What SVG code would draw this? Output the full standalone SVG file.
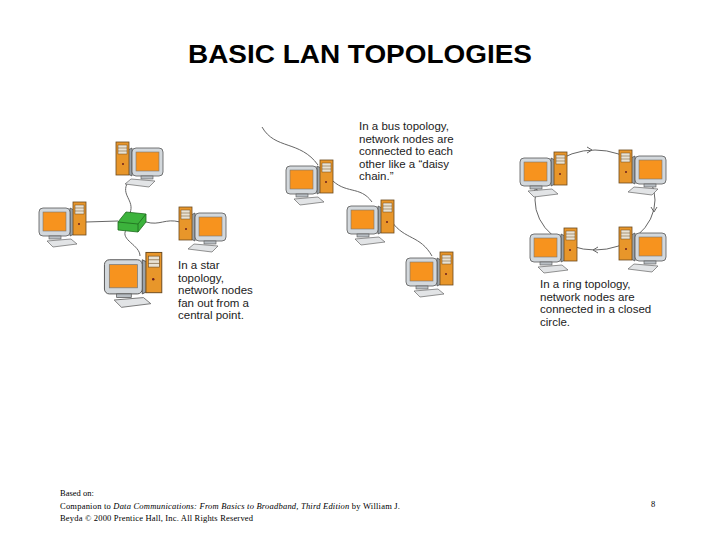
<svg xmlns="http://www.w3.org/2000/svg" width="720" height="540" viewBox="0 0 720 540">
<style>
.t{font-family:"Liberation Sans",Arial,sans-serif;font-size:11.5px;fill:#222}
.f{font-family:"Liberation Serif","Times New Roman",serif;font-size:8.5px;fill:#000}
.c{fill:none;stroke:#666;stroke-width:1}
</style>
<defs>
<g id="pc">
<path d="M33 8 L39 11 L39 33 L33 36 Z" fill="#9aa3ab" stroke="#555" stroke-width="0.8"/>
<rect x="2" y="8" width="31" height="28" rx="4" fill="#d3d8dc" stroke="#555" stroke-width="0.8"/>
<rect x="6" y="12" width="23" height="19" fill="#f7931e" stroke="#777" stroke-width="0.6"/>
<rect x="12" y="36" width="12" height="3" fill="#b8bec3" stroke="#555" stroke-width="0.6"/>
<rect x="36" y="2" width="13" height="33" fill="#e8962a" stroke="#6b4a1e" stroke-width="0.8"/>
<rect x="38" y="5" width="9" height="9" fill="#e9e2d4" stroke="#6b4a1e" stroke-width="0.5"/>
<line x1="38" y1="8" x2="47" y2="8" stroke="#6b4a1e" stroke-width="0.5"/>
<line x1="38" y1="11" x2="47" y2="11" stroke="#6b4a1e" stroke-width="0.5"/>
<circle cx="42" cy="24" r="1" fill="#6b1e1e"/>
<path d="M10 41 L34 39 L40 44 L16 47 Z" fill="#e2e4e6" stroke="#666" stroke-width="0.7"/>
</g>
<g id="pr"><use href="#pc" transform="translate(52,0) scale(-1,1)"/></g>
<path id="ar" d="M-3 -3 L2 0 L-3 3" fill="none" stroke="#666" stroke-width="1"/>
</defs>
<text x="188" y="63" textLength="344" lengthAdjust="spacingAndGlyphs" font-family="Liberation Sans,Arial,sans-serif" font-weight="bold" font-size="25" fill="#000">BASIC LAN TOPOLOGIES</text>
<g id="connectors">
<path class="c" d="M128 182 C120 195 135 200 130 213"/>
<path class="c" d="M86 222 L118 221"/>
<path class="c" d="M146 222 C160 226 165 218 180 222"/>
<path class="c" d="M126 230 C120 240 140 245 140 256"/>
<path class="c" d="M262 127 C275 150 300 140 318 165"/>
<path class="c" d="M330 178 C345 195 360 185 372 202"/>
<path class="c" d="M392 222 C405 240 420 235 432 256"/>
<ellipse class="c" cx="595" cy="200" rx="60" ry="50"/>
<use href="#ar" transform="translate(590,150)"/>
<use href="#ar" transform="translate(654,210) rotate(90)"/>
<use href="#ar" transform="translate(595,250) rotate(180)"/>
<use href="#ar" transform="translate(536,190) rotate(-90)"/>
</g>
<g id="hub"><path d="M118 222 L126 212 L146 214 L146 222 L138 232 L118 230 Z" fill="#3cb33c" stroke="#1d6b1d" stroke-width="0.8"/><path d="M118 222 L138 224 L146 214 M138 224 L138 232" fill="none" stroke="#1d6b1d" stroke-width="0.8"/></g>
<g id="star-top"><use href="#pr" transform="translate(113,140)"/></g>
<g id="star-left"><use href="#pc" transform="translate(37,200)"/></g>
<g id="star-right"><use href="#pr" transform="translate(176,205)"/></g>
<g id="star-bottom"><use href="#pc" transform="translate(102,250) scale(1.22)"/></g>
<g id="bus-1"><use href="#pc" transform="translate(284,158)"/></g>
<g id="bus-2"><use href="#pc" transform="translate(345,198)"/></g>
<g id="bus-3"><use href="#pc" transform="translate(404,250)"/></g>
<g id="ring-tl"><use href="#pc" transform="translate(518,150)"/></g>
<g id="ring-tr"><use href="#pr" transform="translate(616,148)"/></g>
<g id="ring-bl"><use href="#pc" transform="translate(528,226)"/></g>
<g id="ring-br"><use href="#pr" transform="translate(616,225)"/></g>
<g id="labels">
<text class="t"><tspan x="178" y="269">In a star</tspan><tspan x="178" y="281.5">topology,</tspan><tspan x="178" y="294">network nodes</tspan><tspan x="178" y="306.5">fan out from a</tspan><tspan x="178" y="319">central point.</tspan></text>
<text class="t"><tspan x="359" y="130">In a bus topology,</tspan><tspan x="359" y="142.5">network nodes are</tspan><tspan x="359" y="155">connected to each</tspan><tspan x="359" y="167.5">other like a “daisy</tspan><tspan x="359" y="180">chain.”</tspan></text>
<text class="t"><tspan x="540" y="288">In a ring topology,</tspan><tspan x="540" y="300.5">network nodes are</tspan><tspan x="540" y="313">connected in a closed</tspan><tspan x="540" y="325.5">circle.</tspan></text>
<text class="f" x="60" y="496">Based on:</text>
<text class="f" x="60" y="508.5" textLength="340" lengthAdjust="spacing">Companion to <tspan font-style="italic">Data Communications: From Basics to Broadband, Third Edition</tspan> by William J.</text>
<text class="f" x="60" y="521" textLength="193" lengthAdjust="spacing">Beyda © 2000 Prentice Hall, Inc. All Rights Reserved</text>
<text class="f" x="651" y="507">8</text>
</g>
</svg>
